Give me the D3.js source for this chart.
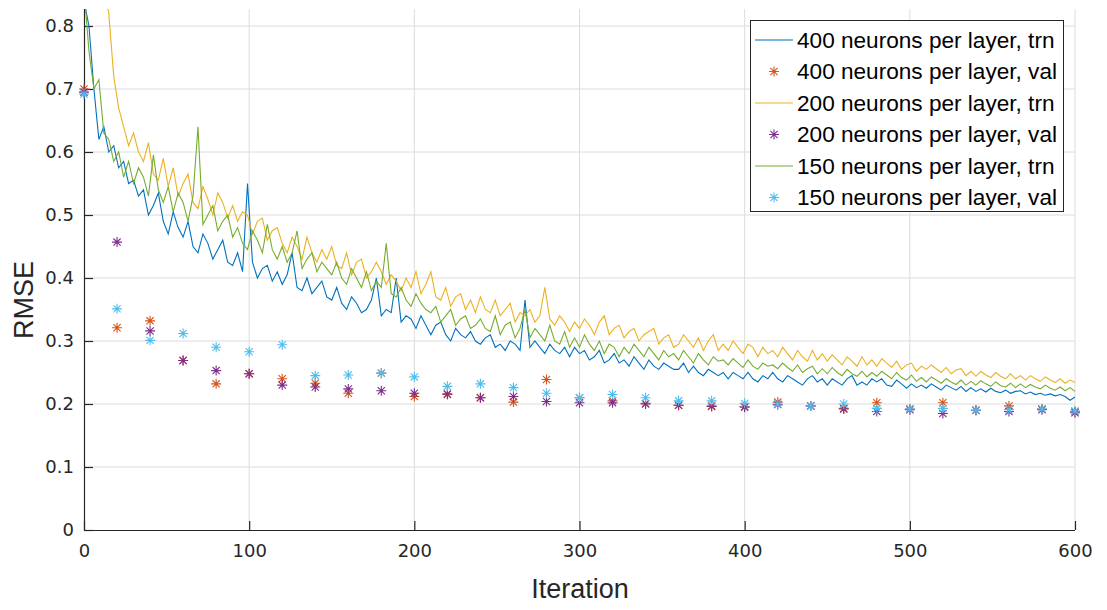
<!DOCTYPE html>
<html><head><meta charset="utf-8">
<script src="https://cdn.jsdelivr.net/npm/d3@7/dist/d3.min.js"></script>
<style>body{margin:0;background:#fff}svg{display:block}</style>
</head><body>
<svg id="c" width="1107" height="610"></svg>
<script>
const trnIter = d3.range(0, 601, 3);
const valIter = d3.range(0, 601, 20);
const xTicks = [0,100,200,300,400,500,600];
const yTicks = [0,0.1,0.2,0.3,0.4,0.5,0.6,0.7,0.8];
const yTickLabels = ["0","0.1","0.2","0.3","0.4","0.5","0.6","0.7","0.8"];
const seriesNames = ["400 neurons per layer, trn","400 neurons per layer, val","200 neurons per layer, trn","200 neurons per layer, val","150 neurons per layer, trn","150 neurons per layer, val"];

const trn400 = [0.84,0.80,0.70,0.62,0.64,0.60,0.61,0.575,0.585,0.55,
0.555,0.53,0.54,0.50,0.515,0.535,0.49,0.47,0.505,0.48,
0.465,0.49,0.45,0.44,0.47,0.455,0.43,0.445,0.46,0.425,
0.42,0.44,0.41,0.55,0.425,0.40,0.415,0.42,0.395,0.41,
0.39,0.405,0.44,0.385,0.38,0.40,0.375,0.385,0.395,0.37,
0.365,0.385,0.36,0.35,0.37,0.36,0.345,0.35,0.365,0.40,
0.34,0.35,0.345,0.40,0.33,0.34,0.335,0.32,0.34,0.325,
0.31,0.325,0.33,0.31,0.30,0.32,0.31,0.305,0.315,0.30,
0.295,0.305,0.31,0.29,0.295,0.285,0.30,0.295,0.285,0.365,
0.29,0.30,0.29,0.28,0.295,0.285,0.28,0.29,0.275,0.29,
0.28,0.285,0.27,0.275,0.285,0.265,0.27,0.28,0.265,0.27,
0.26,0.275,0.265,0.255,0.27,0.26,0.255,0.265,0.26,0.255,
0.255,0.265,0.25,0.26,0.25,0.245,0.255,0.25,0.245,0.25,
0.24,0.25,0.245,0.24,0.25,0.24,0.235,0.245,0.24,0.25,
0.24,0.235,0.245,0.24,0.235,0.23,0.24,0.245,0.235,0.24,
0.23,0.24,0.235,0.23,0.24,0.245,0.23,0.235,0.23,0.24,
0.235,0.24,0.23,0.228,0.238,0.232,0.225,0.232,0.226,0.23,
0.225,0.232,0.227,0.222,0.23,0.226,0.222,0.228,0.22,0.226,
0.22,0.224,0.219,0.225,0.22,0.218,0.222,0.217,0.22,0.221,
0.216,0.219,0.215,0.217,0.214,0.216,0.213,0.215,0.212,0.206,
0.211];

const trn200 = [1.05,1.0,0.96,0.92,0.87,0.82,0.72,0.67,0.64,0.61,
0.63,0.60,0.585,0.615,0.565,0.555,0.59,0.545,0.575,0.53,
0.55,0.565,0.52,0.51,0.545,0.525,0.50,0.535,0.52,0.495,
0.515,0.49,0.505,0.50,0.47,0.49,0.495,0.46,0.475,0.48,
0.455,0.44,0.465,0.45,0.43,0.465,0.44,0.425,0.445,0.43,
0.45,0.42,0.415,0.44,0.405,0.425,0.43,0.40,0.41,0.425,
0.41,0.39,0.405,0.395,0.38,0.40,0.385,0.41,0.375,0.39,
0.41,0.37,0.365,0.385,0.355,0.37,0.375,0.35,0.365,0.345,
0.37,0.35,0.345,0.365,0.34,0.35,0.36,0.33,0.345,0.34,
0.35,0.33,0.34,0.385,0.335,0.325,0.34,0.33,0.315,0.33,
0.32,0.335,0.325,0.31,0.33,0.34,0.31,0.32,0.325,0.305,
0.315,0.32,0.30,0.31,0.315,0.32,0.295,0.305,0.31,0.29,
0.295,0.31,0.30,0.29,0.305,0.285,0.30,0.31,0.285,0.295,
0.285,0.30,0.29,0.28,0.295,0.29,0.275,0.29,0.28,0.285,
0.275,0.29,0.28,0.27,0.285,0.275,0.268,0.285,0.27,0.28,
0.268,0.278,0.27,0.262,0.275,0.268,0.26,0.275,0.262,0.27,
0.26,0.272,0.265,0.258,0.268,0.255,0.262,0.265,0.252,0.26,
0.255,0.262,0.256,0.25,0.258,0.248,0.254,0.256,0.245,0.252,
0.244,0.252,0.246,0.242,0.25,0.244,0.24,0.248,0.24,0.245,
0.238,0.245,0.24,0.236,0.243,0.238,0.234,0.24,0.233,0.238,
0.234];

const trn150 = [0.86,0.76,0.70,0.715,0.63,0.62,0.585,0.60,0.56,0.585,
0.55,0.575,0.56,0.53,0.595,0.54,0.52,0.545,0.505,0.535,
0.52,0.49,0.53,0.64,0.485,0.50,0.515,0.475,0.49,0.50,
0.465,0.48,0.455,0.445,0.475,0.46,0.44,0.485,0.445,0.43,
0.45,0.425,0.44,0.475,0.415,0.43,0.44,0.41,0.425,0.415,
0.405,0.425,0.40,0.39,0.415,0.40,0.385,0.41,0.38,0.395,
0.385,0.455,0.375,0.37,0.385,0.365,0.355,0.375,0.36,0.35,
0.345,0.355,0.33,0.34,0.35,0.325,0.335,0.34,0.32,0.325,
0.335,0.32,0.315,0.34,0.31,0.325,0.33,0.305,0.32,0.35,
0.305,0.32,0.31,0.30,0.325,0.30,0.295,0.315,0.29,0.305,
0.29,0.31,0.295,0.285,0.30,0.28,0.295,0.29,0.275,0.29,
0.28,0.295,0.285,0.275,0.29,0.28,0.27,0.285,0.275,0.28,
0.27,0.285,0.275,0.265,0.28,0.27,0.262,0.275,0.268,0.27,
0.262,0.272,0.265,0.258,0.27,0.26,0.255,0.265,0.26,0.262,
0.256,0.265,0.258,0.252,0.262,0.25,0.256,0.26,0.248,0.256,
0.248,0.258,0.25,0.245,0.255,0.248,0.244,0.252,0.243,0.25,
0.244,0.252,0.246,0.24,0.25,0.242,0.238,0.246,0.236,0.242,
0.235,0.243,0.238,0.233,0.24,0.235,0.231,0.238,0.23,0.236,
0.23,0.237,0.232,0.228,0.235,0.229,0.227,0.233,0.226,0.232,
0.226,0.231,0.227,0.224,0.23,0.225,0.222,0.227,0.221,0.226,
0.22];

const val400 = [0.70,0.321,0.332,0.269,0.232,0.248,0.240,0.233,0.217,0.249,0.212,0.215,0.210,0.203,0.239,0.210,0.205,0.201,0.198,0.197,0.196,0.203,0.197,0.193,0.202,0.192,0.202,0.190,0.197,0.192,0.188];
const val200 = [0.695,0.457,0.316,0.269,0.253,0.248,0.230,0.227,0.224,0.221,0.217,0.216,0.210,0.212,0.204,0.202,0.202,0.200,0.198,0.196,0.195,0.199,0.197,0.192,0.188,0.191,0.185,0.190,0.188,0.191,0.186];
const val150 = [0.692,0.351,0.301,0.312,0.290,0.283,0.294,0.245,0.246,0.249,0.243,0.228,0.232,0.226,0.217,0.210,0.215,0.210,0.205,0.205,0.201,0.200,0.197,0.200,0.193,0.192,0.193,0.190,0.191,0.192,0.189];

const colors = ["#0072BD","#D95319","#EDB120","#7E2F8E","#77AC30","#4DBEEE"];

const svg = d3.select("#c");
const x = d3.scaleLinear().domain([0,600]).range([84,1075]);
const y = d3.scaleLinear().domain([0,0.827]).range([530,9]);
const axisCol = "#262626";
const tickFont = "DejaVu Sans, sans-serif";

// grid
const grid = svg.append("g");
grid.selectAll("line.gx").data(xTicks.slice(1)).enter().append("line")
  .attr("x1",d=>x(d)).attr("x2",d=>x(d)).attr("y1",y.range()[0]).attr("y2",y.range()[1])
  .attr("stroke","#dcdcdc").attr("stroke-width",1);
grid.selectAll("line.gy").data(yTicks.slice(1)).enter().append("line")
  .attr("x1",x.range()[0]).attr("x2",x.range()[1]).attr("y1",d=>y(d)).attr("y2",d=>y(d))
  .attr("stroke","#dcdcdc").attr("stroke-width",1);

// axes
const xAxis = d3.axisBottom(x).tickValues(xTicks).tickSize(-9).tickPadding(14).tickFormat(d3.format("d"));
const gx = svg.append("g").attr("transform","translate(0,530)").call(xAxis);
const yAxis = d3.axisLeft(y).tickValues(yTicks).tickSize(-9).tickPadding(10).tickFormat((d,i)=>yTickLabels[i]);
const gy = svg.append("g").attr("transform","translate(84,0)").call(yAxis);
[gx,gy].forEach(g=>{
  g.selectAll(".domain").attr("stroke",axisCol).attr("stroke-width",1.2);
  g.selectAll(".tick line").attr("stroke",axisCol).attr("stroke-width",1.2);
  g.selectAll(".tick text").attr("fill",axisCol).style("font-family",tickFont).style("font-size","18px");
});
gx.select(".domain").attr("d","M84,0.5H1075");
gy.select(".domain").attr("d","M0.5,530V9");

// clip
svg.append("clipPath").attr("id","clip").append("rect")
  .attr("x",x.range()[0]).attr("y",y.range()[1]).attr("width",x.range()[1]-x.range()[0]).attr("height",y.range()[0]-y.range()[1]);

const line = d3.line().x((d,i)=>x(trnIter[i])).y(d=>y(d));
const star = "M-5,0L5,0M0,-5L0,5M-3.6,-3.6L3.6,3.6M-3.6,3.6L3.6,-3.6";
const plot = svg.append("g");
function drawLine(data,col){
  plot.append("path").datum(data).attr("d",line).attr("fill","none")
    .attr("stroke",col).attr("stroke-width",1.1).attr("clip-path","url(#clip)");
}
function drawStars(data,col){
  plot.append("g").selectAll("path").data(data).enter().append("path")
    .attr("transform",(d,i)=>`translate(${x(valIter[i])},${y(d)})`)
    .attr("d",star).attr("stroke",col).attr("stroke-width",1.1).attr("fill","none");
}
drawLine(trn400,colors[0]);
drawStars(val400,colors[1]);
drawLine(trn200,colors[2]);
drawStars(val200,colors[3]);
drawLine(trn150,colors[4]);
drawStars(val150,colors[5]);

// axis labels
svg.append("text").attr("x",580).attr("y",598).attr("text-anchor","middle")
  .style("font-family","Liberation Sans, Arial, sans-serif").style("font-size","27px").attr("fill",axisCol).text("Iteration");
svg.append("text").attr("transform","translate(33,300) rotate(-90)").attr("text-anchor","middle")
  .style("font-family","Liberation Sans, Arial, sans-serif").style("font-size","27px").attr("fill",axisCol).text("RMSE");

// legend
const lg = svg.append("g");
lg.append("rect").attr("x",750.5).attr("y",20.5).attr("width",313).attr("height",191)
  .attr("fill","#fff").attr("stroke",axisCol).attr("stroke-width",1);
const types = ["line","star","line","star","line","star"];
seriesNames.forEach((name,i)=>{
  const cy = 40 + i*31.5;
  if(types[i]==="line"){
    lg.append("line").attr("x1",755).attr("x2",793).attr("y1",cy).attr("y2",cy).attr("stroke",colors[i]).attr("stroke-width",1.1);
  } else {
    lg.append("path").attr("transform",`translate(774,${cy})`).attr("d",star).attr("stroke",colors[i]).attr("stroke-width",1.1).attr("fill","none");
  }
  lg.append("text").attr("x",797).attr("y",cy+7.5)
    .style("font-family","Liberation Sans, Arial, sans-serif").style("font-size","22.6px").attr("fill","#000").text(name);
});
</script>
</body></html>
